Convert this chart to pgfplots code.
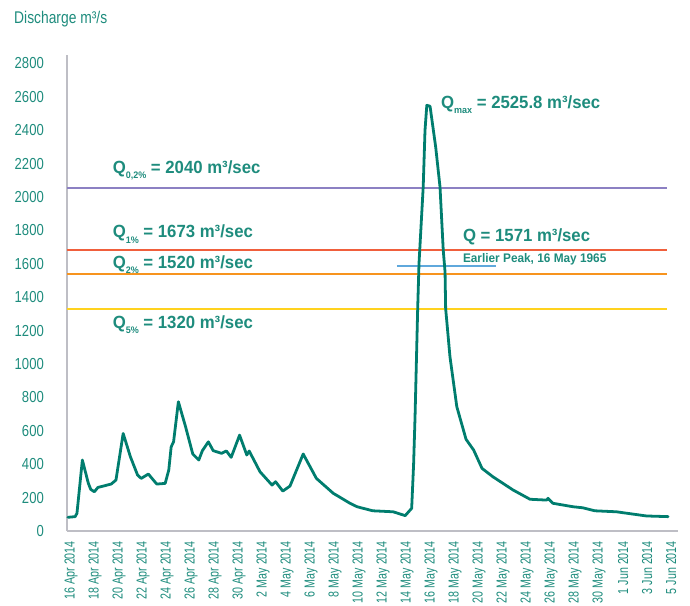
\documentclass[border=0pt]{standalone}
\usepackage{fontspec}
\usepackage{pgfplots}
\pgfplotsset{compat=1.18}
\setmainfont{Liberation Sans}[FakeStretch=0.82]
\newfontfamily\lblfont{Liberation Sans}[FakeStretch=0.95]
\newfontfamily\xtfont{Liberation Sans}[FakeStretch=0.74]
\definecolor{tealline}{RGB}{0,125,110}
\definecolor{tealtxt}{RGB}{30,140,125}
\definecolor{qpurple}{RGB}{140,128,195}
\definecolor{qred}{RGB}{240,95,60}
\definecolor{qorange}{RGB}{247,148,30}
\definecolor{qyellow}{RGB}{255,210,30}
\definecolor{qblue}{RGB}{95,168,220}
\definecolor{axgray}{RGB}{190,190,197}
\newcommand{\qsub}[1]{\raisebox{-5.5pt}{\fontsize{9.5}{10}\selectfont #1}}
\pgfplotstableread{
d v
0.0 82
0.6 86
0.75 106
1.2 425
1.7 285
1.9 249
2.2 235
2.5 261
3.6 281
4.0 305
4.6 584
5.2 445
5.8 335
6.1 315
6.7 341
7.0 315
7.4 281
8.1 285
8.4 365
8.6 504
8.8 534
9.2 774
9.8 624
10.4 461
10.9 425
11.2 481
11.7 534
12.1 481
12.8 465
13.2 479
13.6 441
14.3 574
14.9 455
15.1 479
16.0 355
17.0 275
17.3 295
17.9 239
18.5 269
19.6 461
20.7 315
22.1 226
23.5 166
24.1 145
25.4 121
27.1 115
28.1 92
28.64 136
28.8 400
28.92 684
29.14 1332
29.25 1602
29.6 2060
29.75 2399
29.9 2549
30.17 2543
30.64 2299
31.0 2060
31.27 1681
31.42 1551
31.47 1332
31.83 1043
32.4 744
33.17 549
33.8 485
34.5 375
35.4 325
37.1 245
38.5 190
39.9 185
40.0 196
40.4 166
42.1 145
42.9 139
43.9 121
45.7 115
48.2 90
50.0 86
}\flowdata
\begin{document}
\begin{tikzpicture}
\begin{axis}[
  scale only axis,
  width=611bp, height=476bp,
  xmin=-0.08, xmax=50.83,
  ymin=0, ymax=2850,
  axis lines=left,
  axis line style={-, draw=axgray, line width=1.6pt},
  major tick length=0pt,
  ytick={0,200,...,2800},
  xtick={0.25,2.25,...,50.25},
  xticklabels={16 Apr 2014,18 Apr 2014,20 Apr 2014,22 Apr 2014,24 Apr 2014,26 Apr 2014,28 Apr 2014,30 Apr 2014,2 May 2014,4 May 2014,6 May 2014,8 May 2014,10 May 2014,12 May 2014,14 May 2014,16 May 2014,18 May 2014,20 May 2014,22 May 2014,24 May 2014,26 May 2014,28 May 2014,30 May 2014,1 Jun 2014,3 Jun 2014,5 Jun 2014},
  /pgf/number format/assume math mode=true,
  /pgf/number format/1000 sep={},
  yticklabel style={text=tealtxt, font=\fontsize{16}{18}\selectfont, inner sep=0pt, anchor=east},
  xticklabel style={text=tealtxt, font=\xtfont\fontsize{14.5}{16}\selectfont, inner sep=0pt, rotate=90, anchor=east},
  xticklabel shift=10bp,
  yticklabel shift=23bp,
  clip=false,
]
\addplot[color=qpurple, line width=1.6pt] coordinates {(-0.08,2055) (49.9,2055)};
\addplot[color=qred, line width=2pt] coordinates {(-0.08,1685) (49.9,1685)};
\addplot[color=qorange, line width=1.6pt] coordinates {(-0.08,1538) (49.9,1538)};
\addplot[color=qyellow, line width=1.6pt] coordinates {(-0.08,1328) (49.9,1328)};
\addplot[color=qblue, line width=1.4pt] coordinates {(27.4,1587) (35.7,1587)};
\addplot[color=tealline, line width=2.8pt, line join=round, line cap=round] table[x=d, y=v] {\flowdata};
\begin{scope}[every node/.style={anchor=base west, inner sep=0pt, text=tealtxt, font=\lblfont\bfseries\fontsize{17.7}{20}\selectfont}]
\node at (axis cs:3.72,2142) {Q\qsub{0,2\%} = 2040 m³/sec};
\node at (axis cs:3.72,1755) {Q\qsub{1\%} = 1673 m³/sec};
\node at (axis cs:3.72,1572) {Q\qsub{2\%} = 1520 m³/sec};
\node at (axis cs:3.72,1213) {Q\qsub{5\%} = 1320 m³/sec};
\node at (axis cs:32.9,1731) {Q = 1571 m³/sec};
\node at (axis cs:31.08,2531) {Q\qsub{max} = 2525.8 m³/sec};
\node[font=\lblfont\bfseries\fontsize{12.5}{14}\selectfont] at (axis cs:32.9,1609) {Earlier Peak, 16 May 1965};
\end{scope}
\node[anchor=base west, inner sep=0pt, text=tealtxt, font=\lblfont\fontsize{17}{19}\selectfont] at ([xshift=-53bp, yshift=31bp]rel axis cs:0,1) {\scalebox{0.86}[1]{Discharge m³/s}};
\end{axis}
\pgfresetboundingbox
\useasboundingbox (-67bp,-75bp) rectangle (623bp,531bp);
\end{tikzpicture}
\end{document}
